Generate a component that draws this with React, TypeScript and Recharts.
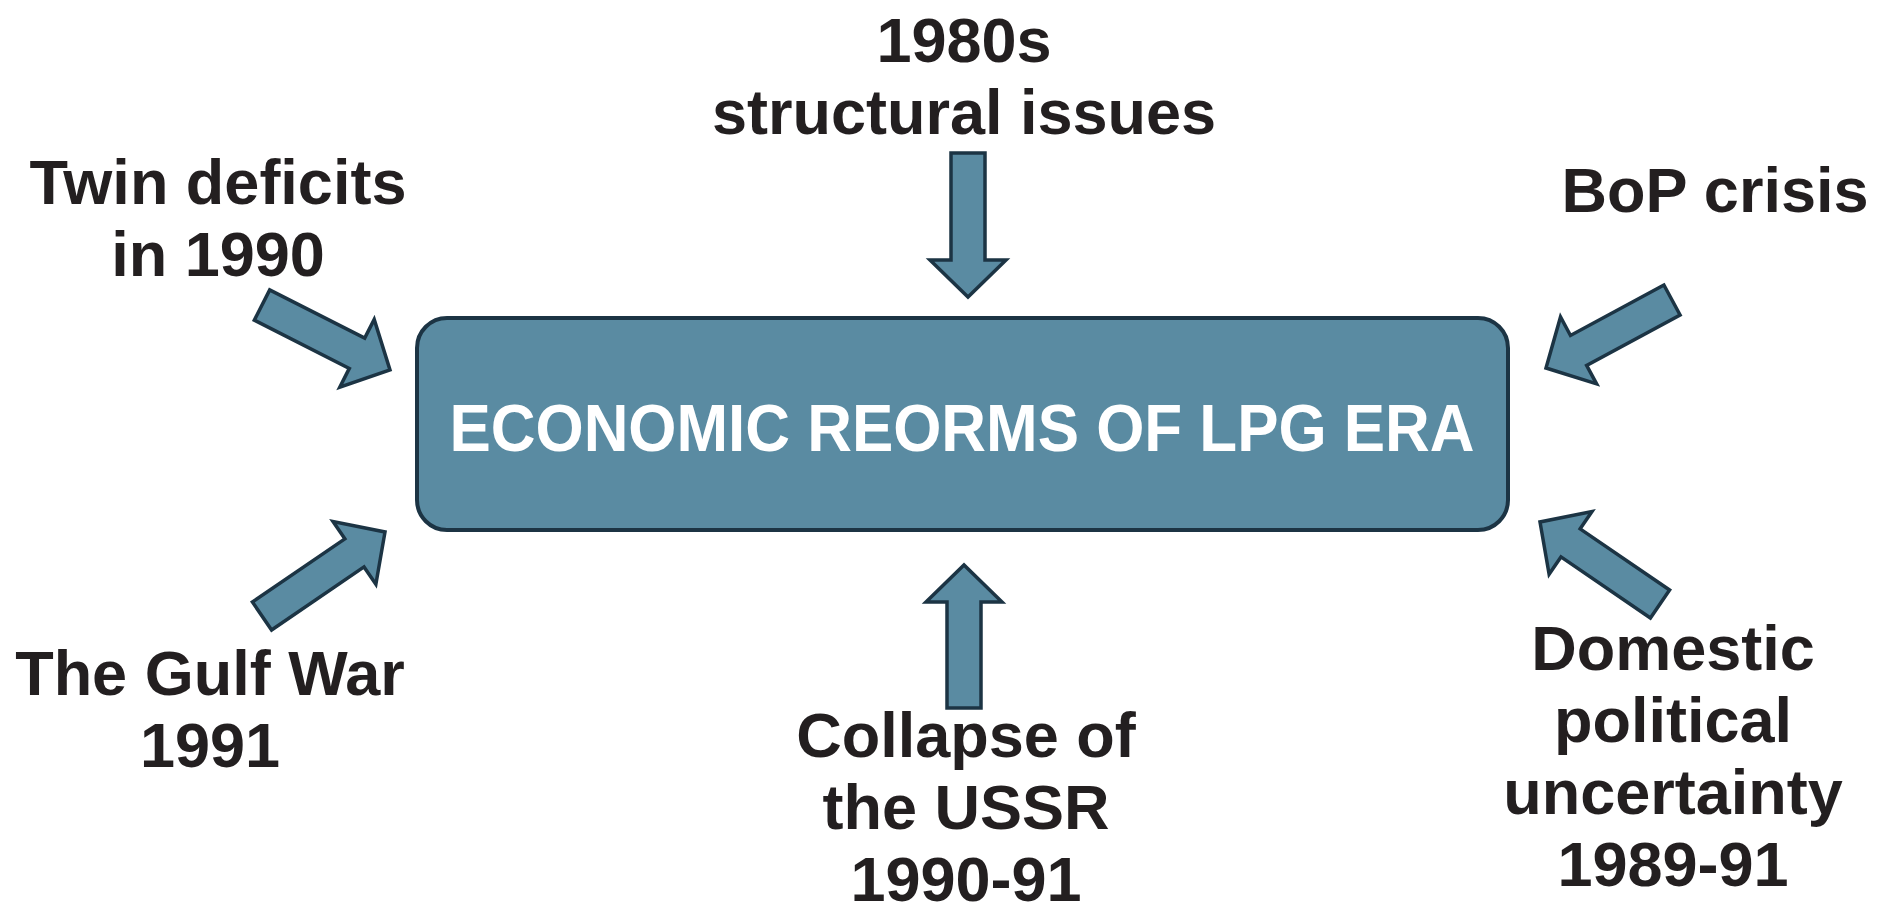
import { ScatterChart, Scatter, XAxis, YAxis, ReferenceArea, ReferenceLine } from 'recharts'

const W = 1892
const H = 915

// diagram space: x to the right, y downward (same units as the picture)
const title = 'ECONOMIC REORMS OF LPG ERA'
const titlePos = { x: 962, y: 451 }
const box = { x1: 417, x2: 1508, y1: 318, y2: 530 }

const causeLines = [
  ['1980s', 'structural issues'],
  ['Twin deficits', 'in 1990'],
  ['BoP crisis'],
  ['The Gulf War', '1991'],
  ['Collapse of', 'the USSR', '1990-91'],
  ['Domestic', 'political', 'uncertainty', '1989-91'],
]
const causeX = [964, 218, 1715, 210, 966, 1673]
const causeY = [62, 204, 212, 695, 757, 670]

// arrow tail -> tip
const arrowFrom = [
  { x: 968, y: 153 },
  { x: 262, y: 305 },
  { x: 1672, y: 300 },
  { x: 262, y: 616 },
  { x: 964, y: 708 },
  { x: 1660, y: 604 },
]
const arrowTo = [
  { x: 968, y: 297 },
  { x: 390, y: 370 },
  { x: 1546, y: 368 },
  { x: 385, y: 532 },
  { x: 964, y: 565 },
  { x: 1540, y: 522 },
]

const BLUE = '#5a8ba2'
const EDGE = '#1c3444'
const INK = '#231f20'
const FONT = "'Liberation Sans', Arial, sans-serif"

const causeData = causeLines.map((lines, i) => ({ x: causeX[i], y: causeY[i], lines }))
const titleData = [{ x: titlePos.x, y: titlePos.y, lines: [title] }]

const BlockArrow = (p: any) => {
  const { x1, y1, x2, y2 } = p
  const dx = x2 - x1
  const dy = y2 - y1
  const len = Math.sqrt(dx * dx + dy * dy)
  const ux = dx / len
  const uy = dy / len
  const nx = -uy
  const ny = ux
  const sw = 17
  const hw = 38
  const hl = 37
  const bx = x1 + ux * (len - hl)
  const by = y1 + uy * (len - hl)
  const pts = [
    [x1 + nx * sw, y1 + ny * sw],
    [bx + nx * sw, by + ny * sw],
    [bx + nx * hw, by + ny * hw],
    [x2, y2],
    [bx - nx * hw, by - ny * hw],
    [bx - nx * sw, by - ny * sw],
    [x1 - nx * sw, y1 - ny * sw],
  ]
  return (
    <polygon
      points={pts.map((q) => q.join(',')).join(' ')}
      fill={BLUE}
      stroke={EDGE}
      strokeWidth={3.5}
      strokeLinejoin="miter"
    />
  )
}

const makeLabel = (color: string, size: number, gap: number, fitWidth?: number) => (props: any) => {
  const { cx, cy } = props
  const d = props.payload ?? props
  return (
    <text x={cx} y={cy} textAnchor="middle" fill={color} fontFamily={FONT} fontWeight="bold" fontSize={size}>
      {d.lines.map((t: string, i: number) => (
        <tspan
          key={i}
          x={cx}
          y={cy + i * gap}
          textLength={fitWidth}
          lengthAdjust={fitWidth ? 'spacingAndGlyphs' : undefined}
        >
          {t}
        </tspan>
      ))}
    </text>
  )
}

export default function App() {
  return (
    <div style={{ position: 'absolute', left: 0, top: 0, width: W, height: H, background: '#fff' }}>
      <ScatterChart width={W} height={H} margin={{ top: 0, right: 0, bottom: 0, left: 0 }}>
        <XAxis type="number" dataKey="x" domain={[0, W]} hide allowDataOverflow />
        <YAxis type="number" dataKey="y" domain={[0, H]} reversed hide allowDataOverflow />
        <ReferenceArea
          x1={box.x1}
          x2={box.x2}
          y1={box.y1}
          y2={box.y2}
          shape={(p: any) => (
            <rect x={p.x} y={p.y} width={p.width} height={p.height} rx={30} ry={30} fill={BLUE} stroke={EDGE} strokeWidth={4} />
          )}
        />
        {arrowFrom.map((a, i) => (
          <ReferenceLine key={i} segment={[a, arrowTo[i]]} shape={BlockArrow} />
        ))}
        <Scatter data={causeData} shape={makeLabel(INK, 63, 72)} isAnimationActive={false} />
        <Scatter data={titleData} shape={makeLabel('#ffffff', 66, 0, 1025)} isAnimationActive={false} />
      </ScatterChart>
    </div>
  )
}
